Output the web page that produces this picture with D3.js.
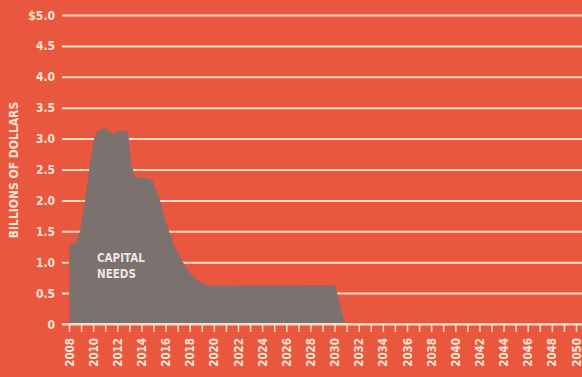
<!DOCTYPE html>
<html>
<head>
<meta charset="utf-8">
<script src="https://cdn.jsdelivr.net/npm/d3@7"></script>
<style>
  html, body { margin: 0; padding: 0; background: #e9583e; }
  svg { display: block; }
  text { font-family: "Liberation Sans Narrow", "DejaVu Sans Condensed", "Roboto", sans-serif; font-weight: bold; }
</style>
</head>
<body>
<svg id="chart" width="582" height="377"></svg>
<script>
// Capital needs outline, billions of dollars by (fractional) year
const years  = [2008.00, 2008.58, 2008.90, 2009.33, 2009.66, 2010.07, 2010.40, 2010.98, 2011.65, 2012.20, 2012.90,
                2013.14, 2013.47, 2014.55, 2014.88, 2015.21, 2015.54, 2015.87, 2016.28, 2016.78, 2017.44, 2018.02,
                2018.60, 2019.10, 2019.68, 2030.04, 2030.87];
const values = [1.28, 1.32, 1.50, 2.00, 2.50, 3.00, 3.13, 3.17, 3.08, 3.13, 3.12,
                2.60, 2.38, 2.36, 2.33, 2.17, 2.00, 1.76, 1.50, 1.23, 1.00, 0.83,
                0.71, 0.65, 0.62, 0.63, 0.00];
const yTicks = [0, 0.5, 1.0, 1.5, 2.0, 2.5, 3.0, 3.5, 4.0, 4.5, 5.0];
const xTicks = d3.range(2008, 2051);
const yTitle = "BILLIONS OF DOLLARS";
const areaLabel = ["CAPITAL", "NEEDS"];

const svg = d3.select("#chart");
const W = 582, H = 377;
const left = 62, baseY = 324, topY = 15;

const x = d3.scaleLinear().domain([2008, 2050]).range([69, 576]);
const y = d3.scaleLinear().domain([0, 5]).range([baseY, topY]);

const cream = "#f7dcc4";
const textCol = "#f8e4d4";
const fontStack = "'Liberation Sans Narrow', 'DejaVu Sans Condensed', sans-serif";

// background
svg.append("rect").attr("width", W).attr("height", H).attr("fill", "#e9583e");

// horizontal grid + value labels
const yAxis = d3.axisLeft(y)
  .tickValues(yTicks)
  .tickSize(-(W - left))
  .tickPadding(7)
  .tickFormat(d => d === 0 ? "0" : (d === 5 ? "$" : "") + d.toFixed(1));
const gy = svg.append("g").attr("transform", `translate(${left},0)`).call(yAxis);
gy.select(".domain").remove();
gy.selectAll(".tick line").attr("stroke", cream).attr("stroke-width", 2);
gy.selectAll(".tick text").attr("fill", textCol).attr("font-size", 12).attr("dy", "0.34em")
  .style("font-family", fontStack).style("font-weight", "bold");

// area
const pts = years.map((yr, i) => [yr, values[i]]);
const area = d3.area().x(d => x(d[0])).y0(y(0)).y1(d => y(d[1]));
svg.append("path").datum(pts).attr("d", area).attr("fill", "#7b716f");

svg.append("text").attr("x", 97).attr("y", 262)
  .attr("fill", "#ece6e4").attr("font-size", 11.5)
  .selectAll("tspan").data(areaLabel).join("tspan")
  .attr("x", 97).attr("dy", (d, i) => i ? 16 : 0).text(d => d);

// x axis
const xAxis = d3.axisBottom(x)
  .tickValues(xTicks)
  .tickSize(8)
  .tickPadding(6)
  .tickFormat(d => d % 2 === 0 ? String(d) : "");
const gx = svg.append("g").attr("transform", `translate(0,${baseY})`).call(xAxis);
gx.select(".domain").remove();
gx.append("line").attr("x1", left).attr("x2", W).attr("y1", 0).attr("y2", 0)
  .attr("stroke", cream).attr("stroke-width", 2);
gx.selectAll(".tick line").attr("stroke", cream).attr("stroke-width", 1.5);
gx.selectAll(".tick text")
  .attr("fill", textCol).attr("font-size", 11.5)
  .attr("transform", "rotate(-90)")
  .attr("text-anchor", "end")
  .attr("x", -14).attr("y", 0).attr("dy", "0.36em")
  .style("font-family", fontStack).style("font-weight", "bold");

// y title
svg.append("text")
  .attr("transform", "translate(18,170) rotate(-90)")
  .attr("text-anchor", "middle")
  .attr("fill", textCol).attr("font-size", 12)
  .text(yTitle);
</script>
</body>
</html>
